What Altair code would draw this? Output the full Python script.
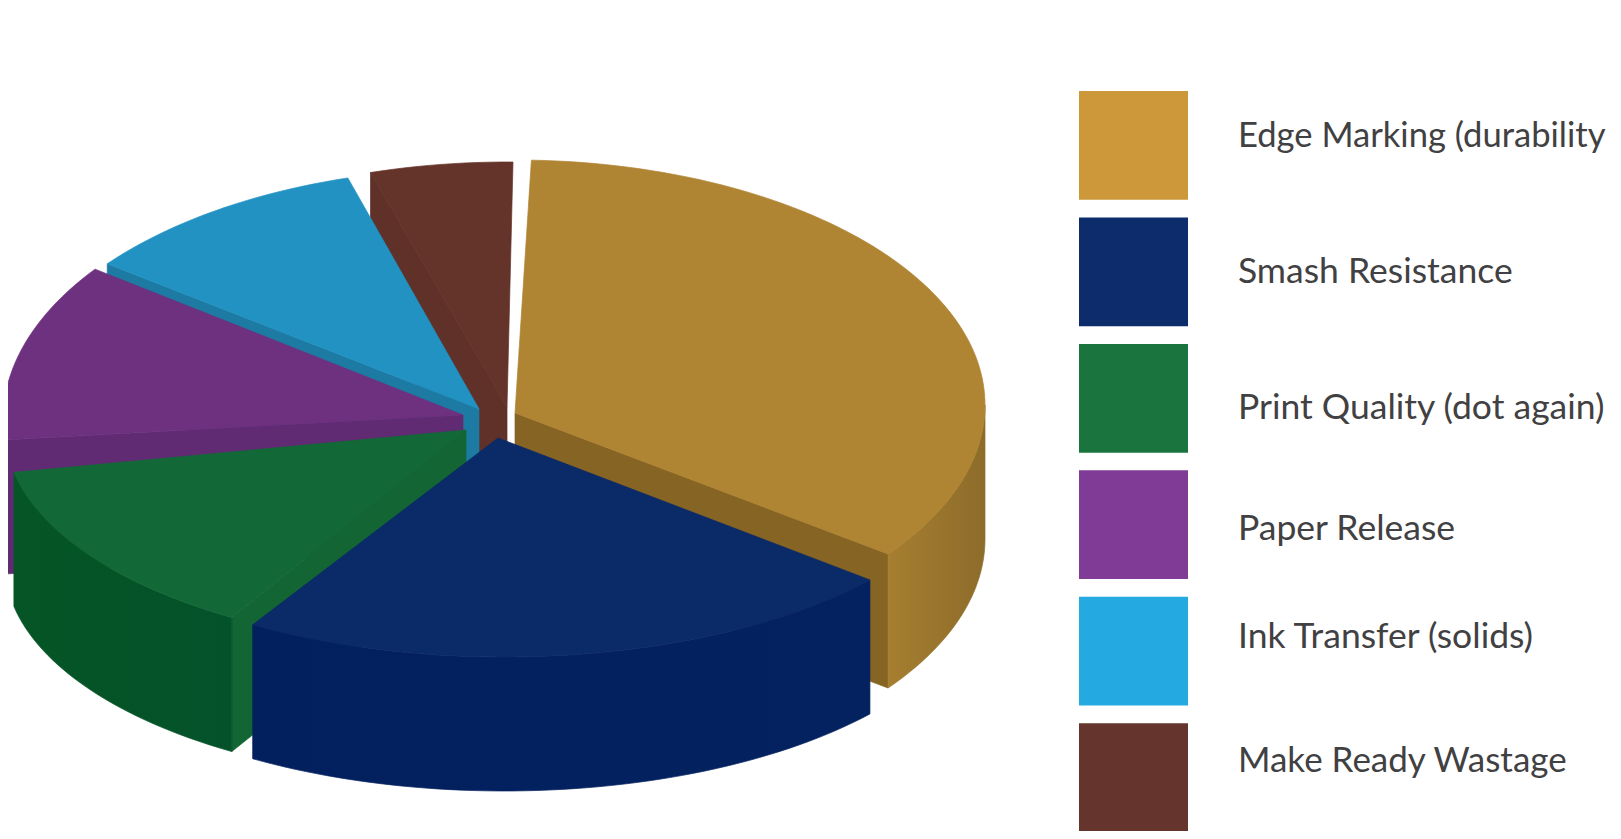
import math
import altair as alt

# --- chart values (share of the pie, in percent)
names = ["Edge Marking (durability", "Smash Resistance", "Print Quality (dot again)",
         "Paper Release", "Ink Transfer (solids)", "Make Ready Wastage"]
shares = [36.0, 23.5, 13.6, 11.7, 10.2, 5.0]

# --- colours
legend_colors = ["#CC983A", "#0C2C6C", "#19753D", "#7F3B95", "#25A9E1", "#65352D"]
top_colors = ["#AF8433", "#0B2A68", "#126937", "#6D317F", "#2292C3", "#64332A"]
rim_colors = [("#A67E30", "#8D6C2A"), ("#03205E", "#04225F"), ("#055526", "#04522A"),
              ("#602B72", "#602B72"), ("#1D7BA3", "#1D7BA3"), ("#5E3027", "#5E3027")]
cut_colors = ["#866423", "#0B2A68", "#136534", "#602B72", "#1D7BA3", "#5F3128"]

# --- layout of the exploded 3-D pie (page pixels)
SWEEP = 348.5          # degrees covered by 100 %, the rest is the gaps
DEPTH = 134
start_deg = [-88.0, 39.9, 121.5, 175.5, 218.3, 253.3]
ellipse = [(515, 405, 470, 245), (504, 442, 477, 215), (480, 430, 475, 220),
           (478, 420, 475, 255), (480, 420, 475, 252), (507, 412, 475, 250)]
apex = [(515, 413), (498, 438), (466, 430), (463, 415), (479, 409), (507, 407)]
draw_order = [5, 4, 3, 0, 2, 1]   # back to front
legend_nudge = [-8.5, 0, 10, 4, -14, -17]
legend_size = [34.6, 35.5, 35.5, 35.5, 35.5, 35.0]


def arc(i, t0, t1, dy=0):
    cx, cy, rx, ry = ellipse[i]
    n = max(2, int(abs(t1 - t0) / 1.5) + 2)
    pts = []
    for k in range(n):
        t = math.radians(t0 + (t1 - t0) * k / (n - 1))
        pts.append([cx + rx * math.cos(t), cy + ry * math.sin(t) + dy])
    return pts


def feature(ring):
    ring = ring + [ring[0]]
    return {"type": "Feature", "properties": {},
            "geometry": {"type": "Polygon", "coordinates": [ring]}}


def piece(ring, color):
    if isinstance(color, tuple):
        fill = alt.LinearGradient(gradient="linear", x1=0, x2=1, y1=0, y2=0,
                                  stops=[alt.GradientStop(color=color[0], offset=0),
                                         alt.GradientStop(color=color[1], offset=1)])
    else:
        fill = color
    return (alt.Chart(alt.Data(values=[feature(ring)]))
            .mark_geoshape(fill=fill, stroke=fill, strokeWidth=0.7)
            .project(type="identity", scale=1, translate=[-8, -8]))


layers = []
for i in draw_order:
    t0 = start_deg[i]
    t1 = t0 + shares[i] / 100 * SWEEP
    ax, ay = apex[i]
    # cut faces that look towards the viewer
    if 90 < t0 < 270:
        c = arc(i, t0, t0)[0]
        layers.append(piece([[ax, ay], c, [c[0], c[1] + DEPTH], [ax, ay + DEPTH]], cut_colors[i]))
    if -90 < t1 < 90:
        c = arc(i, t1, t1)[0]
        layers.append(piece([[ax, ay], c, [c[0], c[1] + DEPTH], [ax, ay + DEPTH]], cut_colors[i]))
    # outer rim, front half only
    a, b = max(t0, 0), min(t1, 180)
    if a < b:
        layers.append(piece(arc(i, a, b) + arc(i, b, a, DEPTH), rim_colors[i]))
    # top face
    layers.append(piece([[ax, ay]] + arc(i, t0, t1), top_colors[i]))

# --- legend
row_scale = alt.Scale(domain=names, range=[83, 824], paddingInner=0.14, paddingOuter=0)
for name, color, nudge, size in zip(names, legend_colors, legend_nudge, legend_size):
    row = alt.Data(values=[{"name": name}])
    layers.append(alt.Chart(row).mark_rect(color=color).encode(
        y=alt.Y("name:N", scale=row_scale, axis=None),
        x=alt.value(1071), x2=alt.value(1180)))
    layers.append(alt.Chart(row).mark_text(
        align="left", baseline="middle", dy=nudge, font="Lato", fontSize=size, color="#414042"
    ).encode(y=alt.Y("name:N", scale=row_scale, axis=None), x=alt.value(1230), text="name:N"))

chart = (alt.layer(*layers)
         .properties(width=1605, height=823, padding=0, background="white",
                     autosize=alt.AutoSizeParams(type="none", contains="padding"))
         .configure_view(stroke=None, strokeWidth=0))

chart.save("out.html", embed_options={"renderer": "svg", "actions": False})
